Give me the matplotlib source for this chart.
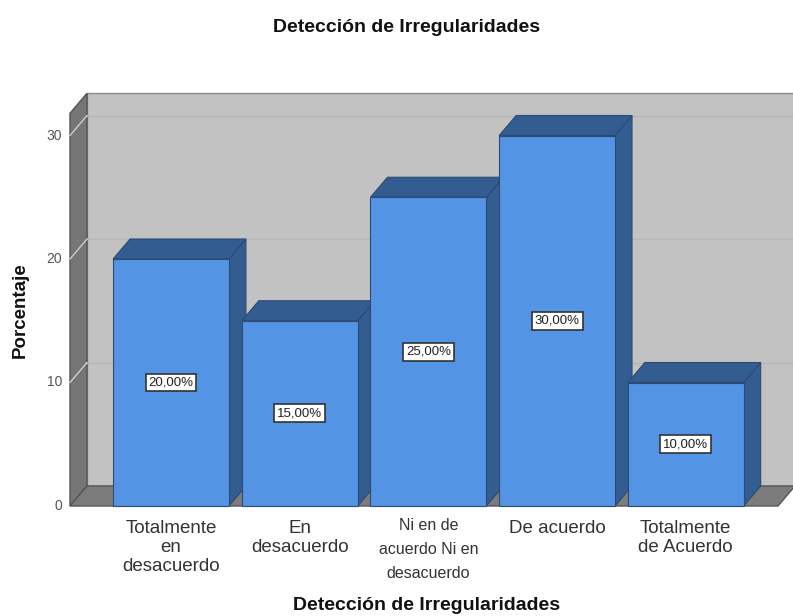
import matplotlib.pyplot as plt
from matplotlib.patches import Polygon, Rectangle

categories = ['Totalmente\nen\ndesacuerdo', 'En\ndesacuerdo',
              'Ni en de\nacuerdo Ni en\ndesacuerdo', 'De acuerdo',
              'Totalmente\nde Acuerdo']
percentages = [20, 15, 25, 30, 10]
y_ticks = [0, 10, 20, 30]

plt.rcParams['font.family'] = ['Liberation Sans', 'DejaVu Sans']

W, H = 793, 616
fig = plt.figure(figsize=(W / 100, H / 100), dpi=100)

# one category step ~128.7 px, one percent ~12.35 px
step_px, unit_px = 128.7, 12.35
ax = fig.add_axes([70 / W, 1 - 506 / H, (793 - 70) / W, (506 - 94) / H])
x0 = -(171 - 70) / step_px
x1 = (778 - 171) / step_px
ax.set_xlim(x0, (793 - 171) / step_px)
ax.set_ylim(0, (506 - 94) / unit_px)
ax.axis('off')

dx, dy = 17 / step_px, 20 / unit_px
wall_top = 31.8
bar_w = 0.9

front = '#5494e4'
dark = '#335c91'
edge = '#2c4a73'


def poly(pts, fc, ec='none', lw=0.8, z=1):
    ax.add_patch(Polygon(pts, closed=True, facecolor=fc, edgecolor=ec,
                         linewidth=lw, zorder=z, clip_on=False))


# back wall, left wall and floor
poly([(x0 + dx, dy), (x1 + dx + 0.2, dy), (x1 + dx + 0.2, wall_top + dy),
      (x0 + dx, wall_top + dy)], '#c2c2c2', '#8c8c8c', 1.0)
poly([(x0, 0), (x0 + dx, dy), (x0 + dx, wall_top + dy), (x0, wall_top)],
     '#767676', '#555555', 1.0)
poly([(x0, 0), (x1, 0), (x1 + dx, dy), (x0 + dx, dy)],
     '#7c7c7c', '#555555', 1.0)

for v in y_ticks[1:]:
    ax.plot([x0 + dx, x1 + dx + 0.2], [v + dy, v + dy], color='#b5b5b5',
            lw=1.0, zorder=1.5, clip_on=False)
    ax.plot([x0, x0 + dx], [v, v + dy], color='#d6d6d6', lw=0.9,
            zorder=1.5, clip_on=False)

for v in y_ticks:
    ax.text(x0 - 0.06, v, str(v), ha='right', va='center', fontsize=10,
            color='#555555', clip_on=False)

# bars drawn left to right so each front hides the previous side
for i, v in enumerate(percentages):
    left, right = i - bar_w / 2, i + bar_w / 2
    poly([(right, 0), (right + dx, dy), (right + dx, v + dy), (right, v)],
         dark, edge, 0.8, 3)
    poly([(left, v), (right, v), (right + dx, v + dy), (left + dx, v + dy)],
         dark, edge, 0.8, 3)
    ax.add_patch(Rectangle((left, 0), bar_w, v, facecolor=front,
                           edgecolor=edge, linewidth=0.8, zorder=3,
                           clip_on=False))
    ax.text(i, v / 2, f'{v:.2f}%'.replace('.', ','), ha='center',
            va='center', fontsize=9.5, color='#222222', zorder=5,
            bbox=dict(boxstyle='square,pad=0.22', facecolor='white',
                      edgecolor='#333333', linewidth=1.2))

for i, lbl in enumerate(categories):
    if i == 2:
        ax.annotate(lbl, xy=(i, 0), xytext=(0, -9), textcoords='offset points',
                    ha='center', va='top', fontsize=11.5, linespacing=1.75,
                    color='#333333', annotation_clip=False)
    else:
        ax.annotate(lbl, xy=(i, 0), xytext=(0, -10), textcoords='offset points',
                    ha='center', va='top', fontsize=13.5, linespacing=1.15,
                    color='#333333', annotation_clip=False)

fig.text(407 / W, 1 - 27 / H, 'Detección de Irregularidades', ha='center',
         va='center', fontsize=14, fontweight='bold', color='#111111')
fig.text(427 / W, 1 - 605 / H, 'Detección de Irregularidades', ha='center',
         va='center', fontsize=14, fontweight='bold', color='#111111')
fig.text(20 / W, 1 - 310 / H, 'Porcentaje', ha='center', va='center',
         rotation=90, fontsize=13.5, fontweight='bold', color='#111111')

fig.savefig('out.png', dpi=100)
